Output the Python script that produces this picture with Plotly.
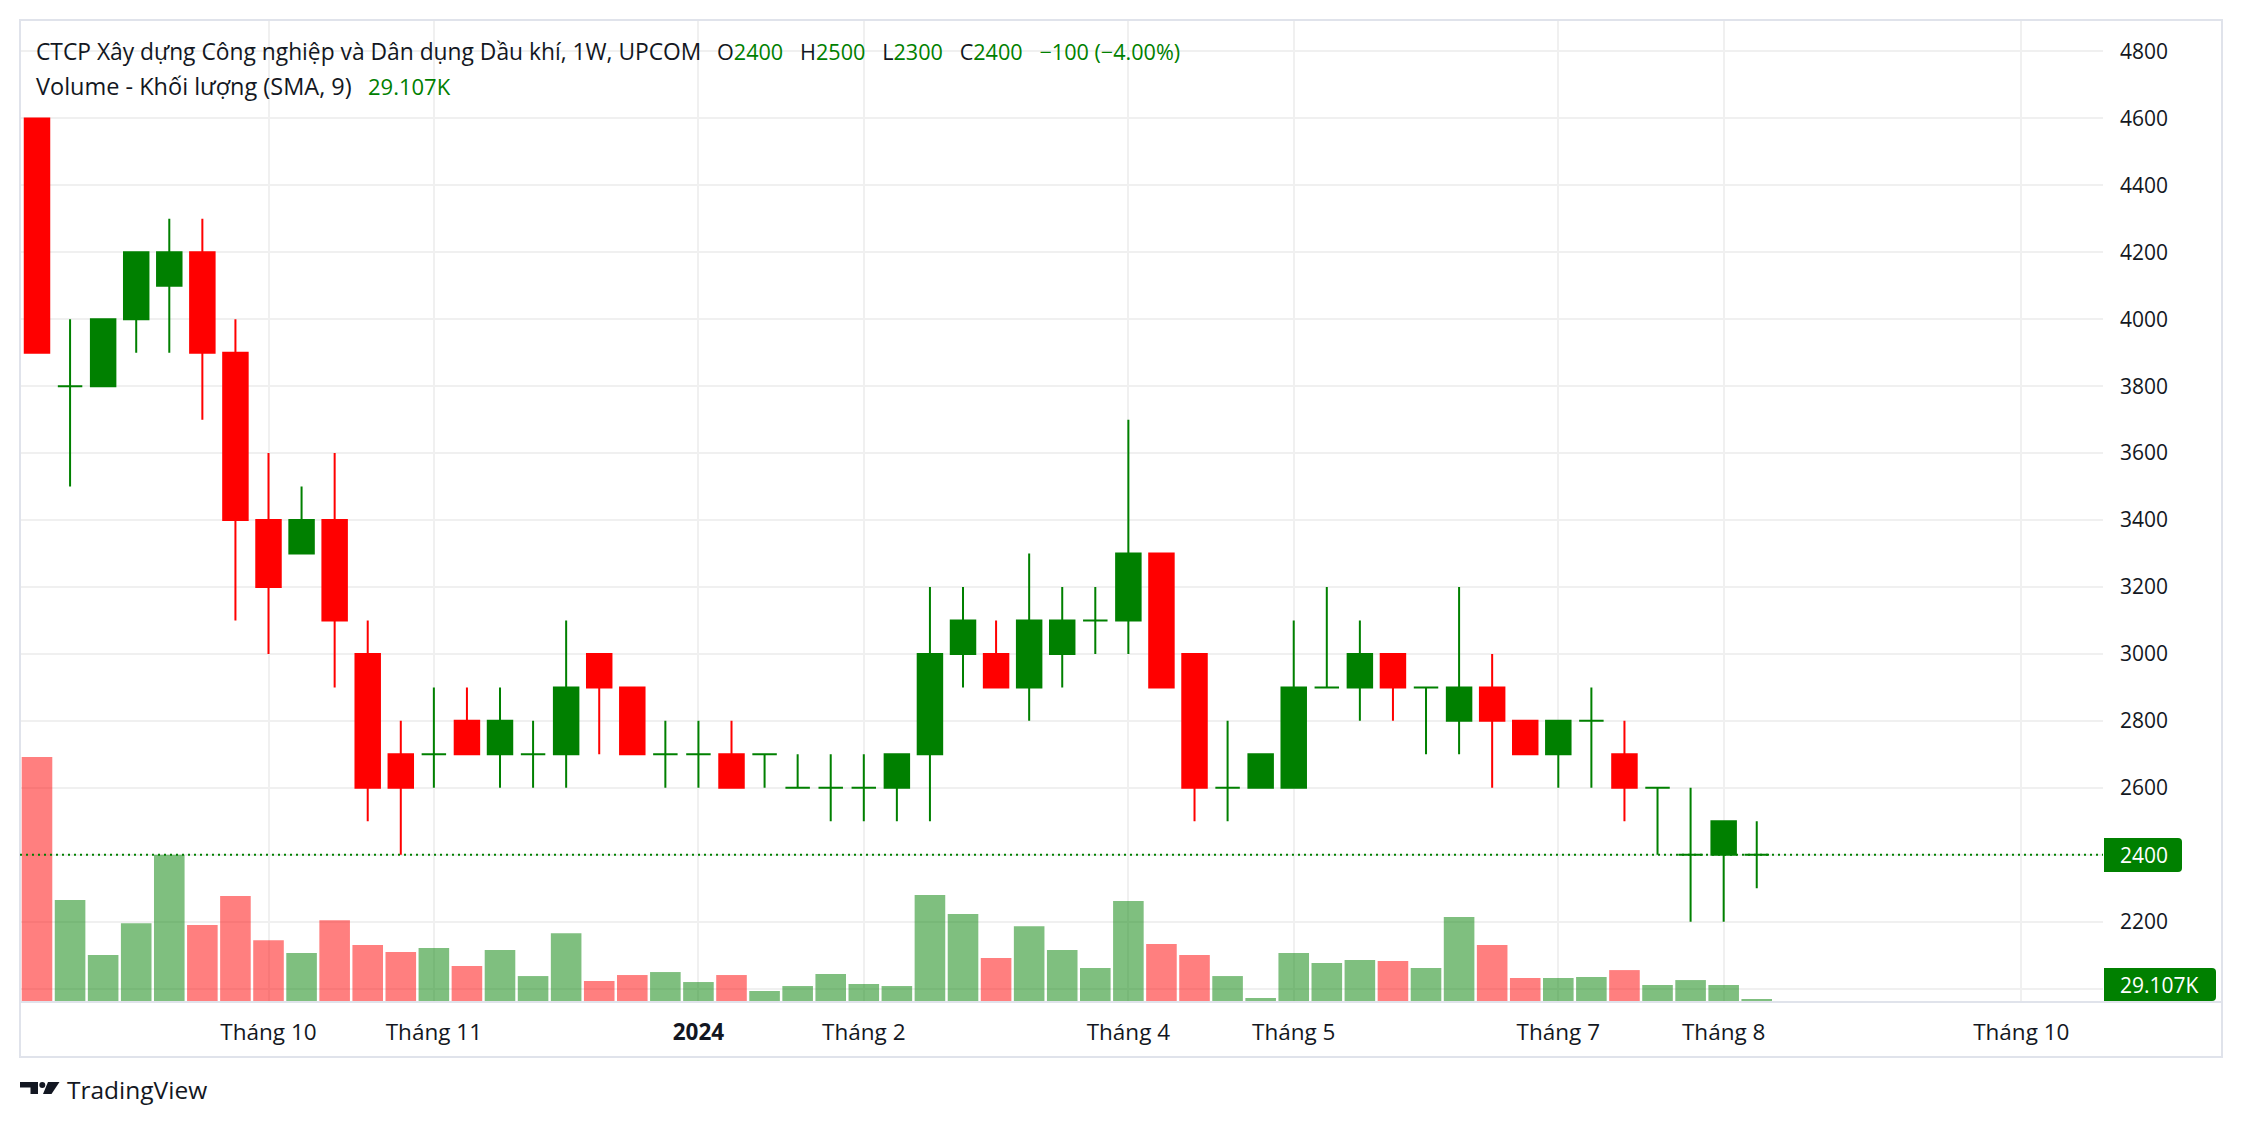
import pandas as pd
import plotly.graph_objects as go

# ---------------- data ----------------
start_date = "2023-08-14"
n_weeks = 53
open_ = [4600, 3800, 3800, 4000, 4100, 4200, 3900, 3400, 3300, 3400, 3000, 2700, 2700, 2800, 2700, 2700, 2700, 3000,
         2900, 2700, 2700, 2700, 2700, 2600, 2600, 2600, 2600, 2700, 3000, 3000, 2900, 3000, 3100, 3100, 3300, 3000,
         2600, 2600, 2600, 2900, 2900, 3000, 2900, 2800, 2900, 2800, 2700, 2800, 2700, 2600, 2400, 2400, 2400]
high = [4600, 4000, 4000, 4200, 4300, 4300, 4000, 3600, 3500, 3600, 3100, 2800, 2900, 2900, 2900, 2800, 3100, 3000,
        2900, 2800, 2800, 2800, 2700, 2700, 2700, 2700, 2700, 3200, 3200, 3100, 3300, 3200, 3200, 3700, 3300, 3000,
        2800, 2700, 3100, 3200, 3100, 3000, 2900, 3200, 3000, 2800, 2800, 2900, 2800, 2600, 2600, 2500, 2500]
low = [3900, 3500, 3800, 3900, 3900, 3700, 3100, 3000, 3300, 2900, 2500, 2400, 2600, 2700, 2600, 2600, 2600, 2700,
       2700, 2600, 2600, 2600, 2600, 2600, 2500, 2500, 2500, 2500, 2900, 2900, 2800, 2900, 3000, 3000, 2900, 2500,
       2500, 2600, 2600, 2900, 2800, 2800, 2700, 2700, 2600, 2700, 2600, 2600, 2500, 2400, 2200, 2200, 2300]
close = [3900, 3800, 4000, 4200, 4200, 3900, 3400, 3200, 3400, 3100, 2600, 2600, 2700, 2700, 2800, 2700, 2900, 2900,
         2700, 2700, 2700, 2600, 2700, 2600, 2600, 2600, 2700, 3000, 3100, 2900, 3100, 3100, 3100, 3300, 2900, 2600,
         2600, 2700, 2900, 2900, 3000, 2900, 2900, 2900, 2800, 2700, 2800, 2800, 2600, 2600, 2400, 2500, 2400]
volume = [2380000, 990000, 456000, 766000, 1430000, 747000, 1030000, 601000, 475000, 795000, 553000, 485000,
          524000, 349000, 504000, 252000, 669000, 204000, 262000, 291000, 194000, 262000, 107000, 155000,
          272000, 175000, 155000, 1040000, 854000, 427000, 737000, 504000, 330000, 980000, 563000, 456000,
          252000, 39000, 476000, 378000, 407000, 398000, 330000, 825000, 553000, 233000, 233000, 243000,
          310000, 165000, 213000, 165000, 29107]
tick_weeks = [7, 12, 20, 25, 33, 38, 46, 51, 60]
tick_labels = ["Tháng 10", "Tháng 11", "<b>2024</b>", "Tháng 2", "Tháng 4", "Tháng 5", "Tháng 7", "Tháng 8",
               "Tháng 10"]
title_text = "CTCP Xây dựng Công nghiệp và Dân dụng Dầu khí, 1W, UPCOM"
volume_title = "Volume - Khối lượng (SMA, 9)"

# ---------------- styling ----------------
FONT = "Open Sans"
TEXT = "#131722"
GREEN = "#008000"
RED = "#ff0000"
GREEN_V = "rgba(0,128,0,0.5)"
RED_V = "rgba(255,0,0,0.5)"
GRID = "#f0f0f0"
BORDER = "#e0e3eb"
W, H = 2244, 1128
PL, PR, PT, PB = 20, 2103, 20, 1002

def px(x):
    return (x - PL) / (PR - PL)

def py(y):
    return (PB - y) / (PB - PT)

week = pd.Timedelta(days=7)
dates = pd.date_range(start_date, periods=n_weeks, freq="7D")
d0 = dates[0]
up = [c >= o for o, c in zip(open_, close)]

fig = go.Figure()

# volume bars (overlay axis)
fig.add_trace(go.Bar(
    x=dates, y=volume, yaxis="y2",
    marker=dict(color=[GREEN_V if u else RED_V for u in up], line=dict(width=0)),
    width=week.total_seconds() * 1000 * 0.925,
    hoverinfo="skip", showlegend=False,
))

for flag, col in [(True, GREEN), (False, RED)]:
    idx = [i for i, u in enumerate(up) if u == flag]
    fig.add_trace(go.Candlestick(
        x=[dates[i] for i in idx],
        open=[open_[i] for i in idx], high=[high[i] for i in idx],
        low=[low[i] for i in idx], close=[close[i] for i in idx],
        increasing=dict(line=dict(color=col, width=2), fillcolor=col),
        decreasing=dict(line=dict(color=col, width=2), fillcolor=col),
        whiskerwidth=0, showlegend=False,
    ))

# ---------------- header texts ----------------
G = "\u00a0\u00a0\u00a0"
def gs(v):
    return f"<span style='color:{GREEN}'>{v}</span>"

chg = close[-1] - close[-2]
pct = chg / close[-2] * 100
sign = "\u2212" if chg < 0 else "+"
chg_txt = f"{sign}{abs(chg)} ({sign}{abs(pct):.2f}%)"
chg_col = GREEN if close[-1] >= open_[-1] else RED
values1 = (f"O{gs(open_[-1])}{G}H{gs(high[-1])}{G}L{gs(low[-1])}{G}C{gs(close[-1])}{G}"
           f"<span style='color:{chg_col}'>{chg_txt}</span>")
vol_last = volume[-1] / 1000
vol_txt = f"{vol_last:.3f}K"

def ann(text, x, y, size, color=TEXT, yref="paper"):
    return dict(text=text, x=x, y=y, xref="paper", yref=yref, xanchor="left", yanchor="middle",
                showarrow=False, font=dict(family=FONT, size=size, color=color))

annotations = [
    ann(title_text, px(34), py(52), 22.8),
    ann(values1, px(715), py(52), 21.6),
    ann(volume_title, px(34), py(86), 23.5),
    ann(vol_txt, px(366), py(86), 22, GREEN),
    ann(str(close[-1]), px(2118), close[-1], 21, "white", yref="y"),
    ann(vol_txt, px(2118), py(985), 21, "white"),
    ann("TradingView", px(65), py(1089), 24.5),
]

def rbox(x0, y0, x1, y1, r):
    # rectangle with square left corners and rounded right corners (pixel coords -> paper)
    return (f"M{px(x0)},{py(y0)} L{px(x1 - r)},{py(y0)} Q{px(x1)},{py(y0)} {px(x1)},{py(y0 + r)} "
            f"L{px(x1)},{py(y1 - r)} Q{px(x1)},{py(y1)} {px(x1 - r)},{py(y1)} L{px(x0)},{py(y1)} Z")

def poly(pts):
    return "M" + " L".join(f"{px(a)},{py(b)}" for a, b in pts) + " Z"

shapes = [
    dict(type="rect", xref="paper", yref="paper", x0=px(20), x1=px(2222), y0=py(20), y1=py(1057),
         line=dict(color=BORDER, width=2), layer="above"),
    dict(type="line", xref="paper", yref="paper", x0=px(20), x1=px(2222), y0=py(1002), y1=py(1002),
         line=dict(color=BORDER, width=2), layer="above"),
    dict(type="line", xref="paper", yref="y", x0=0, x1=1, y0=close[-1], y1=close[-1],
         line=dict(color=GREEN, width=2, dash="2px,4px"), layer="above"),
    dict(type="path", xref="paper", yref="paper", path=rbox(2104, 838, 2182, 872, 4),
         fillcolor=GREEN, line=dict(width=0), layer="above"),
    dict(type="path", xref="paper", yref="paper", path=rbox(2104, 968, 2216, 1001, 4),
         fillcolor=GREEN, line=dict(width=0), layer="above"),
    # TradingView logo
    dict(type="path", xref="paper", yref="paper",
         path=poly([(20, 1082), (38, 1082), (38, 1094), (30.5, 1094), (30.5, 1087.5), (20, 1087.5)]),
         fillcolor=TEXT, line=dict(width=0), layer="above"),
    dict(type="circle", xref="paper", yref="paper", x0=px(39.3), x1=px(45.3), y0=py(1082), y1=py(1088),
         fillcolor=TEXT, line=dict(width=0), layer="above"),
    dict(type="path", xref="paper", yref="paper",
         path=poly([(48, 1082), (59.5, 1082), (51.5, 1094), (43, 1094)]),
         fillcolor=TEXT, line=dict(width=0), layer="above"),
]

x_lo = d0 + week * (-0.514)
x_hi = d0 + week * 62.47
ytick_vals = list(range(2000, 4801, 200))
ytick_text = ["" if v == 2000 else str(v) for v in ytick_vals]

fig.update_layout(
    width=W, height=H,
    margin=dict(l=PL, r=W - PR, t=PT, b=H - PB, pad=0),
    paper_bgcolor="white", plot_bgcolor="white",
    showlegend=False, boxgap=0.26, boxgroupgap=0,
    font=dict(family=FONT, size=21, color=TEXT),
    xaxis=dict(type="date", range=[x_lo, x_hi], tickvals=[d0 + week * k for k in tick_weeks],
               ticktext=tick_labels, showgrid=True, gridcolor=GRID, gridwidth=2, zeroline=False,
               showline=False, ticks="", ticklabelstandoff=14,
               tickfont=dict(family=FONT, size=22.5, color=TEXT), rangeslider=dict(visible=False),
               fixedrange=True),
    yaxis=dict(side="right", range=[1960, 4894], tickvals=ytick_vals, ticktext=ytick_text,
               showgrid=True, gridcolor=GRID, gridwidth=2, zeroline=False, showline=False, ticks="",
               ticklabelstandoff=16, tickfont=dict(family=FONT, size=21, color=TEXT)),
    yaxis2=dict(overlaying="y", range=[0, max(volume) * 4.008], visible=False, showgrid=False),
    annotations=annotations, shapes=shapes,
)

fig.write_html("out.html")
